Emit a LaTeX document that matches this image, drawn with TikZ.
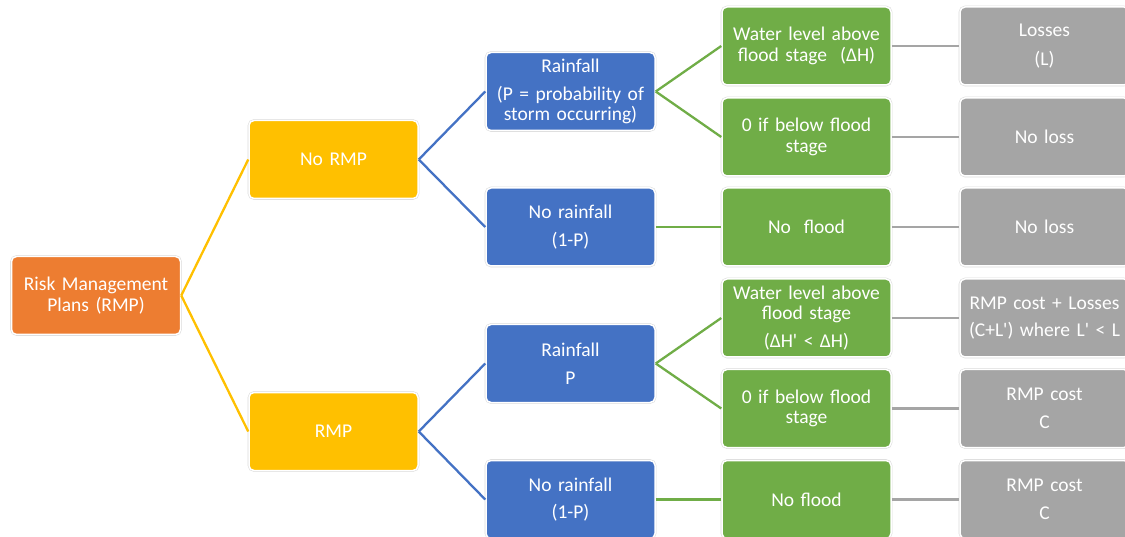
\documentclass[tikz,border=0pt]{standalone}
\usepackage{fontspec}
\setmainfont{Carlito}[Ligatures=TeXOff]
\definecolor{cOrange}{HTML}{ED7D31}
\definecolor{cYellow}{HTML}{FFC000}
\definecolor{cBlue}{HTML}{4472C4}
\definecolor{cGreen}{HTML}{70AD47}
\definecolor{cGray}{HTML}{A5A5A5}
\begin{document}
\begin{tikzpicture}[x=1pt,y=-1pt,
  box/.style={rectangle, rounded corners=5pt, minimum width=169pt, minimum height=78pt,
    inner sep=0pt, text width=165pt, align=center, text=white,
    font=\fontsize{19.5}{20.5}\selectfont,
    draw=white, line width=1.5pt, preaction={draw=black!14, line width=2.6pt}},
  obox/.style={box, fill=cOrange},
  ybox/.style={box, fill=cYellow},
  bbox/.style={box, fill=cBlue},
  gbox/.style={box, fill=cGreen},
  sbox/.style={box, fill=cGray},
  link/.style={line width=2.3pt},
]
\useasboundingbox (0,0) rectangle (1125,537);
\clip (0,0) rectangle (1125,537);

\node[obox] (root) at (96,295.5) {Risk Management\\Plans (RMP)};
\node[ybox] (normp) at (333.5,159.5) {No RMP};
\node[ybox] (rmp) at (333.5,431.5) {RMP};

\node[bbox] (rain1) at (570.5,91.5) {Rainfall\\[7pt](P = probability of\\storm occurring)};
\node[bbox] (norain1) at (570.5,227) {No rainfall\\[7pt](1-P)};
\node[bbox] (rain2) at (570.5,363.5) {Rainfall\\[7pt]P};
\node[bbox] (norain2) at (570.5,499.5) {No rainfall\\[7pt](1-P)};

\node[gbox] (g1) at (806.5,46) {Water level above\\flood stage\ \ (ΔH)};
\node[gbox] (g2) at (806.5,137) {0 if below flood\\stage};
\node[gbox] (g3) at (806.5,227) {No\ \ flood};
\node[gbox] (g4) at (806.5,318) {Water level above\\flood stage\\[7pt](ΔH' < ΔH)};
\node[gbox] (g5) at (806.5,408.5) {0 if below flood\\stage};
\node[gbox] (g6) at (806.5,499.5) {No flood};

\node[sbox] (s1) at (1044.5,46) {Losses\\[8pt](L)};
\node[sbox] (s2) at (1044.5,137) {No loss};
\node[sbox] (s3) at (1044.5,227) {No loss};
\node[sbox] (s4) at (1044.5,318) {RMP cost + Losses\\[6pt](C+L') where L' < L};
\node[sbox] (s5) at (1044.5,408.5) {RMP cost\\[7pt]C};
\node[sbox] (s6) at (1044.5,499.5) {RMP cost\\[7pt]C};

\draw[link, cYellow] (root.east) -- (normp.west);
\draw[link, cYellow] (root.east) -- (rmp.west);
\draw[link, cBlue] (normp.east) -- (rain1.west);
\draw[link, cBlue] (normp.east) -- (norain1.west);
\draw[link, cBlue] (rmp.east) -- (rain2.west);
\draw[link, cBlue] (rmp.east) -- (norain2.west);
\draw[link, cGreen] (rain1.east) -- (g1.west);
\draw[link, cGreen] (rain1.east) -- (g2.west);
\draw[link, cGreen] (norain1.east) -- (g3.west);
\draw[link, cGreen] (rain2.east) -- (g4.west);
\draw[link, cGreen] (rain2.east) -- (g5.west);
\draw[link, cGreen] (norain2.east) -- (g6.west);
\draw[link, cGray] (g1.east) -- (s1.west);
\draw[link, cGray] (g2.east) -- (s2.west);
\draw[link, cGray] (g3.east) -- (s3.west);
\draw[link, cGray] (g4.east) -- (s4.west);
\draw[link, cGray] (g5.east) -- (s5.west);
\draw[link, cGray] (g6.east) -- (s6.west);
\end{tikzpicture}
\end{document}
